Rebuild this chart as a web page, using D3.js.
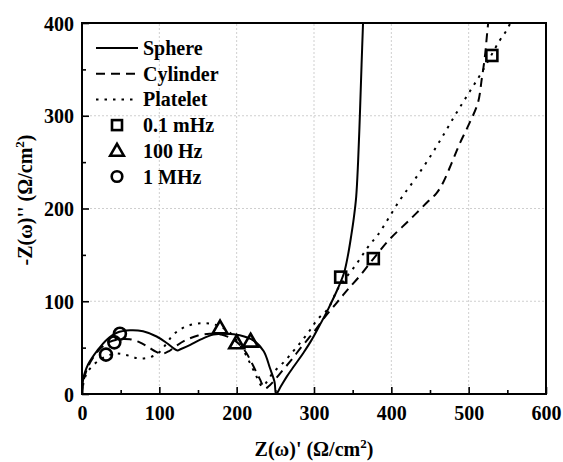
<!DOCTYPE html>
<html><head><meta charset="utf-8">
<script src="https://cdn.jsdelivr.net/npm/d3@7"></script>
<style>body{margin:0;background:#fff}svg{display:block}text{font-family:"Liberation Serif","Times New Roman",serif;font-weight:bold;fill:#000}</style>
</head><body><div id="chart"></div>
<script>
const sphereX = [0,0.5,1.7,4,8,13,19,25,32,45,62,79,96.5,109.5,118,123.5,128,140,153,170,187,204,222,235,243,249,251,257,265,275,286,296,306,318,331,339,344,348,351.5,354.5,357,359.5,361.5,363.5];
const sphereY = [0,8,17,24,32,39,46,52,58.6,66,68.7,67.6,62,55,49.5,47,48.5,53,58.6,64,65,63.3,57.6,46,28,13,0,8,19,31,44,57,72,91,114,131,150,170,190,212,250,305,355,402];
const cylX = [0,2,7,15,25,35,48,62,74,85,96,104,112,122,134,150,165,180,193,203,212,218,224,230,234,237,241,248,256,270,285,300,315,328,336,345,359,377,398,424,448,458,467,478,489,501,512,517,521,524,525.5];
const cylY = [0,14,28,40,50,56,59,59,56,51,45.5,43.5,46,52,58,63,65,64,60,54,45,36,26,16,9,6,8,14,22,36,52,67,84,97,105,114,127,146,167,188,208,216,228,249,271,292,314,340,364,390,402];
const platX = [0,2,6,12,20,30,42,52,62,72,82,92,100,108,116,124,135,150,165,178,190,200,210,218,225,230,233,238,247,260,273,284,295,304,318,332,353,372,383,411,430,448,465,482,499,517,540,549,555];
const platY = [0,12,22,29,35,40,43.5,43,41,38.5,38.5,41,45,53,62,68,73,76,76,73,67,58,45,32,20,11,8,12,23,33.5,46,57,69,80,92,115,138,161,172,209,231,253,276,300,323,347,381,392,402];
const lowX = [334.5,376.7,530];
const lowY = [126,146,365];
const midX = [178.5,200,218];
const midY = [71,55,56.8];
const highX = [31,41.8,49];
const highY = [42.4,55.7,65];
const xTicks = [0,100,200,300,400,500,600];
const yTicks = [0,100,200,300,400];
const legendLabels = ["Sphere","Cylinder","Platelet","0.1 mHz","100 Hz","1 MHz"];

const W = 563, H = 462;
const m = {l:82, r:17, t:23, b:68};
const svg = d3.select("#chart").append("svg").attr("width",W).attr("height",H);
const x = d3.scaleLinear().domain([0,600]).range([m.l, W-m.r]);
const y = d3.scaleLinear().domain([0,400]).range([H-m.b, m.t]);

// grid
const g = svg.append("g");
g.selectAll(".gx").data(xTicks.slice(1,-1)).join("line")
  .attr("x1",d=>x(d)).attr("x2",d=>x(d)).attr("y1",y(0)).attr("y2",y(400))
  .attr("stroke","#cfcfcf").attr("stroke-width",1).attr("stroke-dasharray","2,2");
g.selectAll(".gy").data(yTicks.slice(1,-1)).join("line")
  .attr("y1",d=>y(d)).attr("y2",d=>y(d)).attr("x1",x(0)).attr("x2",x(600))
  .attr("stroke","#cfcfcf").attr("stroke-width",1).attr("stroke-dasharray","2,2");

// axes
const xAxis = svg.append("g").attr("transform",`translate(0,${y(0)})`)
  .call(d3.axisBottom(x).tickValues(xTicks).tickSize(-7).tickFormat(d3.format("d")));
const xMinor = svg.append("g").attr("transform",`translate(0,${y(0)})`)
  .call(d3.axisBottom(x).tickValues(d3.range(50,600,100)).tickSize(-4).tickFormat(""));
const yAxis = svg.append("g").attr("transform",`translate(${x(0)},0)`)
  .call(d3.axisLeft(y).tickValues(yTicks).tickSize(-7).tickFormat(d3.format("d")));
const yMinor = svg.append("g").attr("transform",`translate(${x(0)},0)`)
  .call(d3.axisLeft(y).tickValues(d3.range(50,400,100)).tickSize(-4).tickFormat(""));
[xAxis,xMinor,yAxis,yMinor].forEach(a=>{
  a.select(".domain").remove();
  a.selectAll(".tick line").attr("stroke","#000").attr("stroke-width",1.6);
  a.selectAll("text").attr("font-size",20).attr("font-family","Liberation Serif").attr("font-weight","bold").attr("fill","#000");
});
yAxis.selectAll("text").attr("dy","0.35em").attr("x",-8);
xAxis.selectAll("text").attr("dy","0.71em").attr("y",12);

// frame
svg.append("rect").attr("x",x(0)).attr("y",y(400)).attr("width",x(600)-x(0)).attr("height",y(0)-y(400))
  .attr("fill","none").attr("stroke","#000").attr("stroke-width",2);

// lines
const line = d3.line().x(d=>x(d[0])).y(d=>y(d[1])).curve(d3.curveCatmullRom.alpha(0.5));
svg.append("clipPath").attr("id","cp").append("rect")
  .attr("x",x(0)).attr("y",y(400)).attr("width",x(600)-x(0)).attr("height",y(0)-y(400));
const series = [
  {xs:sphereX, ys:sphereY, dash:null},
  {xs:cylX, ys:cylY, dash:"9,6"},
  {xs:platX, ys:platY, dash:"2.5,6"}
];
const lg = svg.append("g").attr("clip-path","url(#cp)");
series.forEach(s=>{
  lg.append("path").datum(s.xs.map((v,i)=>[v,s.ys[i]]))
    .attr("d",line).attr("fill","none").attr("stroke","#000").attr("stroke-width",2)
    .attr("stroke-dasharray",s.dash);
});

// markers
const mk = svg.append("g").attr("fill","none").attr("stroke","#000").attr("stroke-width",2.6);
mk.selectAll(".sq").data(lowX.map((v,i)=>[v,lowY[i]])).join("rect")
  .attr("x",d=>x(d[0])-5.5).attr("y",d=>y(d[1])-5.5).attr("width",11).attr("height",11);
const tri = d3.symbol().type(d3.symbolTriangle).size(95);
mk.selectAll(".tr").data(midX.map((v,i)=>[v,midY[i]])).join("path")
  .attr("d",tri).attr("transform",d=>`translate(${x(d[0])},${y(d[1])+1})`);
mk.selectAll(".ci").data(highX.map((v,i)=>[v,highY[i]])).join("circle")
  .attr("cx",d=>x(d[0])).attr("cy",d=>y(d[1])).attr("r",6);

// legend
const leg = svg.append("g");
const rowY = i => 48 + i*25.7;
legendLabels.forEach((lab,i)=>{
  const yy = rowY(i);
  if(i<3){
    leg.append("line").attr("x1",96).attr("x2",138).attr("y1",yy).attr("y2",yy)
      .attr("stroke","#000").attr("stroke-width",2).attr("stroke-dasharray",series[i].dash);
  } else if(i===3){
    leg.append("rect").attr("x",112).attr("y",yy-5).attr("width",10).attr("height",10)
      .attr("fill","none").attr("stroke","#000").attr("stroke-width",2.6);
  } else if(i===4){
    leg.append("path").attr("d",d3.symbol().type(d3.symbolTriangle).size(80)).attr("transform",`translate(117,${yy+1})`)
      .attr("fill","none").attr("stroke","#000").attr("stroke-width",2.6);
  } else {
    leg.append("circle").attr("cx",117).attr("cy",yy).attr("r",5.3)
      .attr("fill","none").attr("stroke","#000").attr("stroke-width",2.6);
  }
  leg.append("text").attr("x",143).attr("y",yy).attr("dy","0.35em").attr("font-size",20).text(lab);
});

// axis titles
const xt = svg.append("text").attr("x",(x(0)+x(600))/2).attr("y",456).attr("text-anchor","middle").attr("font-size",20);
xt.append("tspan").text("Z(ω)' (Ω/cm");
xt.append("tspan").attr("dy",-8).attr("font-size",13).text("2");
xt.append("tspan").attr("dy",8).text(")");
const yt = svg.append("text").attr("transform","translate(32,200) rotate(-90)").attr("text-anchor","middle").attr("font-size",20);
yt.append("tspan").text("-Z(ω)'' (Ω/cm");
yt.append("tspan").attr("dy",-8).attr("font-size",13).text("2");
yt.append("tspan").attr("dy",8).text(")");
</script></body></html>
